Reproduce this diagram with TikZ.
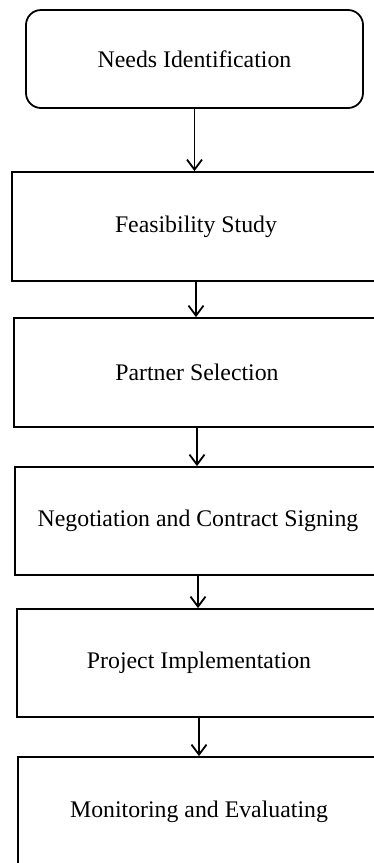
\documentclass[tikz,border=0pt]{standalone}
\usepackage{fontspec}
\setmainfont{Liberation Serif}
\usetikzlibrary{arrows.meta}

\begin{document}
\begin{tikzpicture}[x=0.5pt,y=-0.5pt,line width=0.9pt,
    >={Straight Barb[length=5pt,width=7.5pt,line width=0.9pt]},
    stage/.style={draw,rectangle,inner sep=0pt,font=\fontsize{11.9}{14}\selectfont}]
      \useasboundingbox (0,0) rectangle (374,863);
      \clip (0,0) rectangle (374,863);
      \node (needs) at (194.5,59) [stage,rounded corners=7.5pt,minimum width=168.5pt,minimum height=49pt] {Needs Identification};
      \node (feas) at (196,226.5) [stage,minimum width=184pt,minimum height=54.5pt] {Feasibility Study};
      \draw [->](needs)--(needs |- feas.north);
      \node (partner) at (197,372.5) [stage,minimum width=183pt,minimum height=54.5pt] {Partner Selection};
      \draw [->](feas)--(feas |- partner.north);
      \node (negot) at (198,521) [stage,minimum width=183pt,minimum height=54pt] {Negotiation and Contract Signing};
      \draw [->](partner)--(partner |- negot.north);
      \node (impl) at (199,663) [stage,minimum width=182pt,minimum height=54pt] {Project Implementation};
      \draw [->](negot)--(negot |- impl.north);
      \node (monit) at (199,811.5) [stage,minimum width=181pt,minimum height=54.5pt] {Monitoring and Evaluating};
      \draw [->](impl)--(impl |- monit.north);
    \end{tikzpicture}
\end{document}
